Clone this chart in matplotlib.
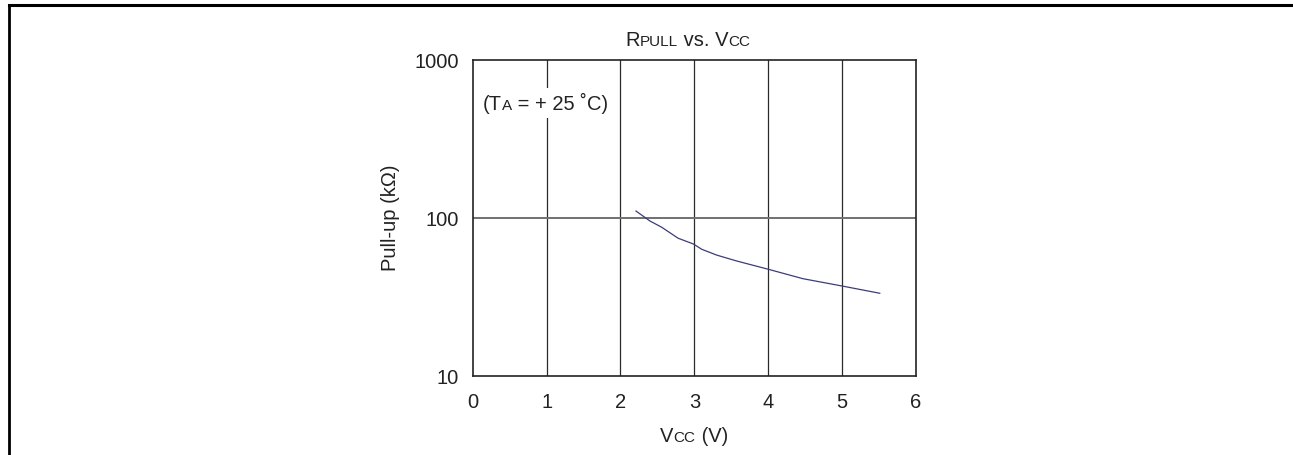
import numpy as np
import matplotlib
matplotlib.use('Agg')
import matplotlib.pyplot as plt
from matplotlib.offsetbox import TextArea, HPacker, AnchoredOffsetbox
from matplotlib.lines import Line2D

plt.rcParams['font.family'] = ['Liberation Sans', 'DejaVu Sans']

# 数据
vcc = [2.21, 2.40, 2.56, 2.78, 2.99, 3.10, 3.30, 3.57, 4.00, 4.47, 4.99, 5.51]
r_pull = [110.7, 95.7, 87.3, 74.5, 68.4, 63.4, 58.3, 53.5, 47.4, 41.3, 37.2, 33.4]
x_ticks = [0, 1, 2, 3, 4, 5, 6]
y_ticks = [10, 100, 1000]

big = 14.5
small = 11
txt_color = '#222222'

fig = plt.figure(figsize=(12.93, 4.55), dpi=100)
ax = fig.add_axes([0.3656, 0.1736, 0.3428, 0.6945])

ax.plot(vcc, r_pull, color='#3c3c7a', lw=0.9)

ax.set_yscale('log')
ax.set_xlim(0, 6)
ax.set_ylim(10, 1000)
ax.set_xticks(x_ticks)
ax.set_xticklabels([str(t) for t in x_ticks])
ax.set_yticks(y_ticks)
ax.set_yticklabels([str(t) for t in y_ticks])
ax.yaxis.set_minor_locator(matplotlib.ticker.NullLocator())
ax.tick_params(axis='both', length=0, labelsize=big, colors=txt_color)
ax.tick_params(axis='x', pad=12)
ax.tick_params(axis='y', pad=10)

# 网格线
for t in x_ticks[1:-1]:
    ax.axvline(t, color='#2a2a2a', lw=0.9, zorder=1)
ax.axhline(100, color='#707070', lw=1.4, zorder=1)

for s in ax.spines.values():
    s.set_color('#222222')
    s.set_linewidth(1.2)


def mixed(parts):
    # parts: (文字, 字号)
    areas = [TextArea(t, textprops=dict(fontsize=fs, color=txt_color)) for t, fs in parts]
    return HPacker(children=areas, align='baseline', pad=0, sep=0)


# 标题
title = AnchoredOffsetbox(loc='center', child=mixed([('R', big), ('PULL', small), (' vs. V', big), ('CC', small)]),
                          bbox_to_anchor=(0.532, (455 - 41) / 455), bbox_transform=fig.transFigure,
                          frameon=False, pad=0, borderpad=0)
fig.add_artist(title)

# x轴标签
xlab = AnchoredOffsetbox(loc='center', child=mixed([('V', big), ('CC', small), (' (V)', big)]),
                         bbox_to_anchor=(694 / 1293, (455 - 437) / 455), bbox_transform=fig.transFigure,
                         frameon=False, pad=0, borderpad=0)
fig.add_artist(xlab)

ax.set_ylabel('Pull-up (kΩ)', fontsize=big, color=txt_color)
ax.yaxis.set_label_coords(-0.163, 0.5)

# 温度注释
note = AnchoredOffsetbox(loc='center left', child=mixed([('(T', big), ('A', small), (' = + 25 ˚C)', big)]),
                         bbox_to_anchor=(0.014, 0.864), bbox_transform=ax.transAxes,
                         frameon=True, pad=0.3, borderpad=0)
note.patch.set_facecolor('white')
note.patch.set_edgecolor('none')
note.set_zorder(3)
ax.add_artist(note)

# 外框
fig.add_artist(Line2D([9 / 1293, 1], [1 - 4.5 / 455] * 2, color='black', lw=2.2, transform=fig.transFigure))
fig.add_artist(Line2D([9 / 1293] * 2, [0, 1 - 4.5 / 455], color='black', lw=2.0, transform=fig.transFigure))

fig.savefig('out.png', dpi=100)
